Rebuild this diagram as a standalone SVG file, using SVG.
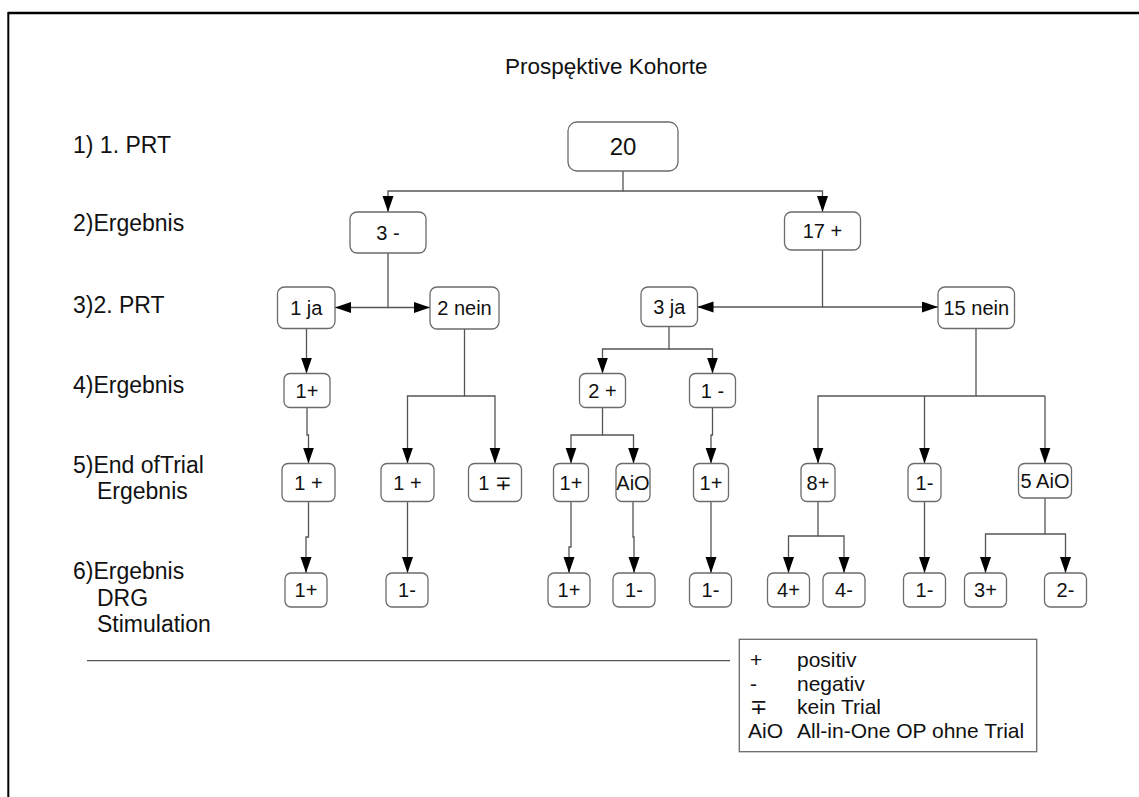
<svg xmlns="http://www.w3.org/2000/svg" width="1139" height="797" viewBox="0 0 1139 797">
  <style>
    .box { fill: #ffffff; stroke: #6b6b6b; stroke-width: 1.3; }
    .t { font-family: "Liberation Sans", "DejaVu Sans", Arial, sans-serif; font-size: 20px; text-anchor: middle; fill: #111111; }
    .big { font-size: 24px; }
    .lbl { font-family: "Liberation Sans", "DejaVu Sans", Arial, sans-serif; font-size: 23px; fill: #111111; }
    .title { font-family: "Liberation Sans", "DejaVu Sans", Arial, sans-serif; font-size: 22.5px; fill: #111111; }
    .leg { font-family: "Liberation Sans", "DejaVu Sans", Arial, sans-serif; font-size: 21px; fill: #111111; }
    .conn { fill: none; stroke: #555555; stroke-width: 1.3; marker-end: url(#arr); }
    .plain { fill: none; stroke: #555555; stroke-width: 1.3; }
  </style>
  <defs>
    <marker id="arr" markerUnits="userSpaceOnUse" markerWidth="16" markerHeight="12" refX="16" refY="5.5" orient="auto">
      <path d="M0,0 L16,5.5 L0,11 Z" fill="#000000"/>
    </marker>
  </defs>

  <rect x="0" y="0" width="1139" height="797" fill="#ffffff"/>

  <!-- frame -->
  <line x1="8" y1="13" x2="1139" y2="13" stroke="#000" stroke-width="2.4"/>
  <line x1="8.3" y1="12" x2="8.3" y2="797" stroke="#000" stroke-width="2"/>

  <!-- title -->
  <text class="title" x="505" y="73.5">Prospęktive Kohorte</text>

  <!-- row labels -->
  <g id="row-labels">
    <text class="lbl" x="73" y="153">1) 1. PRT</text>
    <text class="lbl" x="73" y="231">2)Ergebnis</text>
    <text class="lbl" x="73" y="312.5">3)2. PRT</text>
    <text class="lbl" x="73" y="392.5">4)Ergebnis</text>
    <text class="lbl" x="73" y="472.5">5)End ofTrial<tspan x="97" y="499">Ergebnis</tspan></text>
    <text class="lbl" x="73" y="579">6)Ergebnis<tspan x="97" y="605.5">DRG</tspan><tspan x="97" y="632">Stimulation</tspan></text>
  </g>

  <!-- connectors -->
  <g id="connectors">
    <path class="conn" d="M623,171 V191 H388 V212"/>
    <path class="conn" d="M623,191 H822.5 V212"/>
    <path class="conn" d="M388,253 V307.5 H335"/>
    <path class="conn" d="M388,307.5 H430"/>
    <path class="conn" d="M822.5,250 V307 H697.5"/>
    <path class="conn" d="M822.5,307 H938"/>
    <path class="conn" d="M306.5,328.5 V373.5"/>
    <path class="conn" d="M307,407.5 V435 H308.5 V463.5"/>
    <path class="conn" d="M464.5,329 V396 H407.5 V463.5"/>
    <path class="conn" d="M464.5,396 H495 V463.5"/>
    <path class="conn" d="M669,326.5 V349 H602.5 V373.5"/>
    <path class="conn" d="M669,349 H712.5 V373.5"/>
    <path class="conn" d="M976,328.5 V396 H818 V463.5"/>
    <path class="plain" d="M976,396 H1045"/>
    <path class="conn" d="M924.5,396 V463.5"/>
    <path class="conn" d="M1045,396 V463.5"/>
    <path class="conn" d="M602.5,407.5 V435 H571 V463.5"/>
    <path class="conn" d="M602.5,435 H633.5 V463.5"/>
    <path class="conn" d="M712.5,407.5 V435 H711 V463.5"/>
    <path class="conn" d="M308.5,501.5 V537 H306 V573"/>
    <path class="conn" d="M407.5,501.5 V573"/>
    <path class="conn" d="M571,501.5 V547 H569 V573"/>
    <path class="conn" d="M633,501.5 V537 H634 V573"/>
    <path class="conn" d="M711,501.5 V573"/>
    <path class="conn" d="M818,501.5 V536 H788.5 V573"/>
    <path class="conn" d="M818,536 H844 V573"/>
    <path class="conn" d="M924.5,501.5 V573"/>
    <path class="conn" d="M1045,498 V534 H985.5 V573"/>
    <path class="conn" d="M1045,534 H1065.5 V573"/>
  </g>

  <!-- row 1 -->
  <g id="n-20"><rect class="box" x="568" y="122" width="110" height="49" rx="9"/><text class="t big" x="623" y="155">20</text></g>
  <!-- row 2 -->
  <g id="n-3neg"><rect class="box" x="350" y="212" width="76" height="41" rx="7"/><text class="t" x="388" y="239.5">3 -</text></g>
  <g id="n-17pos"><rect class="box" x="784.5" y="212" width="76" height="38" rx="7"/><text class="t" x="822.5" y="238">17 +</text></g>
  <!-- row 3 -->
  <g id="n-1ja"><rect class="box" x="277.5" y="287" width="57.5" height="41.5" rx="7"/><text class="t" x="306.3" y="314.7">1 ja</text></g>
  <g id="n-2nein"><rect class="box" x="430" y="287" width="69" height="42" rx="7"/><text class="t" x="464.5" y="315">2 nein</text></g>
  <g id="n-3ja"><rect class="box" x="641" y="287" width="56.5" height="39.5" rx="7"/><text class="t" x="669.3" y="313.7">3 ja</text></g>
  <g id="n-15nein"><rect class="box" x="938" y="287" width="76.5" height="41.5" rx="7"/><text class="t" x="976.3" y="314.7">15 nein</text></g>
  <!-- row 4 -->
  <g id="n-r4-1pos"><rect class="box" x="284" y="373.5" width="46" height="34" rx="6"/><text class="t" x="307" y="397.5">1+</text></g>
  <g id="n-r4-2pos"><rect class="box" x="579.5" y="373.5" width="46" height="34" rx="6"/><text class="t" x="602.5" y="397.5">2 +</text></g>
  <g id="n-r4-1neg"><rect class="box" x="689.5" y="373.5" width="46" height="34" rx="6"/><text class="t" x="712.5" y="397.5">1 -</text></g>
  <!-- row 5 -->
  <g id="n-r5-a"><rect class="box" x="282" y="463.5" width="53" height="38" rx="6"/><text class="t" x="308.5" y="489.5">1 +</text></g>
  <g id="n-r5-b"><rect class="box" x="381" y="463.5" width="53" height="38" rx="6"/><text class="t" x="407.5" y="489.5">1 +</text></g>
  <g id="n-r5-c"><rect class="box" x="468.5" y="463.5" width="53" height="38" rx="6"/><text class="t" x="495" y="489.5">1 ∓</text></g>
  <g id="n-r5-d"><rect class="box" x="553.5" y="463.5" width="35" height="38" rx="6"/><text class="t" x="571" y="489.5">1+</text></g>
  <g id="n-r5-e"><rect class="box" x="616" y="463.5" width="34" height="38" rx="6"/><text class="t" x="633" y="489.5">AiO</text></g>
  <g id="n-r5-f"><rect class="box" x="693.5" y="463.5" width="35" height="38" rx="6"/><text class="t" x="711" y="489.5">1+</text></g>
  <g id="n-r5-g"><rect class="box" x="801" y="463.5" width="34" height="38" rx="6"/><text class="t" x="818" y="489.5">8+</text></g>
  <g id="n-r5-h"><rect class="box" x="908" y="463.5" width="33" height="38" rx="6"/><text class="t" x="924.5" y="489.5">1-</text></g>
  <g id="n-r5-i"><rect class="box" x="1018.5" y="463.5" width="53" height="34.5" rx="6"/><text class="t" x="1045" y="487.7">5 AiO</text></g>
  <!-- row 6 -->
  <g id="n-r6-a"><rect class="box" x="285" y="573" width="42" height="34" rx="6"/><text class="t" x="306" y="597">1+</text></g>
  <g id="n-r6-b"><rect class="box" x="386" y="573" width="42" height="34" rx="6"/><text class="t" x="407" y="597">1-</text></g>
  <g id="n-r6-c"><rect class="box" x="548" y="573" width="42" height="34" rx="6"/><text class="t" x="569" y="597">1+</text></g>
  <g id="n-r6-d"><rect class="box" x="613" y="573" width="42" height="34" rx="6"/><text class="t" x="634" y="597">1-</text></g>
  <g id="n-r6-e"><rect class="box" x="689.5" y="573" width="42" height="34" rx="6"/><text class="t" x="710.5" y="597">1-</text></g>
  <g id="n-r6-f"><rect class="box" x="767.5" y="573" width="42" height="34" rx="6"/><text class="t" x="788.5" y="597">4+</text></g>
  <g id="n-r6-g"><rect class="box" x="823" y="573" width="42" height="34" rx="6"/><text class="t" x="844" y="597">4-</text></g>
  <g id="n-r6-h"><rect class="box" x="903.5" y="573" width="42" height="34" rx="6"/><text class="t" x="924.5" y="597">1-</text></g>
  <g id="n-r6-i"><rect class="box" x="964.5" y="573" width="42" height="34" rx="6"/><text class="t" x="985.5" y="597">3+</text></g>
  <g id="n-r6-j"><rect class="box" x="1044.5" y="573" width="42" height="34" rx="6"/><text class="t" x="1065.5" y="597">2-</text></g>

  <!-- separator line -->
  <line x1="87" y1="660.7" x2="730" y2="660.7" stroke="#555" stroke-width="1.3"/>

  <!-- legend -->
  <g id="legend">
    <rect x="739.3" y="639.3" width="297.4" height="112.4" fill="#fff" stroke="#6b6b6b" stroke-width="1.3"/>
    <text class="leg" x="750" y="667">+</text>
    <text class="leg" x="797" y="667">positiv</text>
    <text class="leg" x="750" y="690.5">-</text>
    <text class="leg" x="797" y="690.5">negativ</text>
    <text class="leg" x="750" y="714">∓</text>
    <text class="leg" x="797" y="714">kein Trial</text>
    <text class="leg" x="748" y="738">AiO</text>
    <text class="leg" x="797" y="738">All-in-One OP ohne Trial</text>
  </g>
</svg>
